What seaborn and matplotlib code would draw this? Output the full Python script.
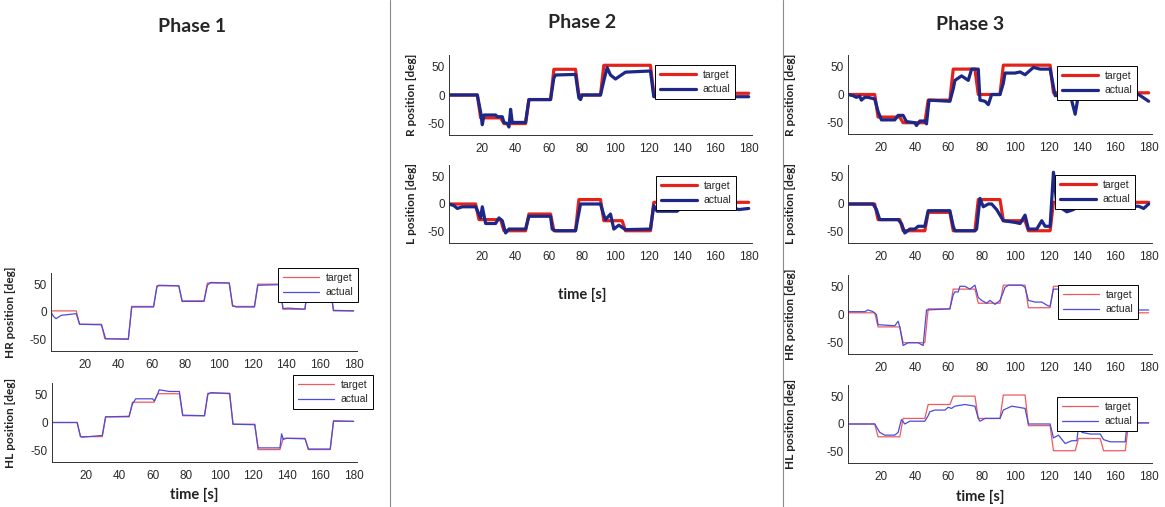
import matplotlib
matplotlib.use("Agg")
import matplotlib.pyplot as plt
import seaborn as sns
from matplotlib.lines import Line2D

sns.set_theme(style="white")
plt.rcParams["font.family"] = ["Liberation Sans", "DejaVu Sans"]
plt.rcParams["axes.unicode_minus"] = False

W, H = 1165, 507

# ---- data: (time [s], position [deg]) breakpoints ----
# Phase 1
P1_HR_TARGET_T = [0, 15, 17, 30, 32, 46, 48, 61, 63, 76, 78, 91, 93, 106, 108, 121, 123, 136, 138, 151, 153, 166, 168, 180]
P1_HR_TARGET_Y = [2, 2, -22, -22, -48, -48, 10, 10, 47, 47, 20, 20, 52, 52, 10, 10, 50, 50, 5, 5, 48, 48, 2, 2]
P1_HR_ACTUAL_T = [0, 1.5, 3, 6, 15, 17, 30, 32.5, 46, 48, 61, 63, 64, 76, 78, 91, 93, 95, 106, 108, 110, 121, 123, 136, 138, 141, 151, 153, 166, 168, 180]
P1_HR_ACTUAL_Y = [0, -8, -12, -6, -3, -22, -23, -48, -49, 9, 9, 45, 48, 47, 19, 19, 48, 53, 52, 12, 9, 9, 48, 49, 6, 7, 5, 48, 48, 3, 2]

P1_HL_TARGET_T = [0, 15, 17, 30, 32, 46, 48, 61, 63, 76, 78, 91, 93, 106, 108, 121, 123, 136, 138, 151, 153, 166, 168, 180]
P1_HL_TARGET_Y = [0, 0, -25, -25, 10, 10, 36, 36, 51, 51, 12, 12, 52, 52, -3, -3, -48, -48, -28, -28, -48, -48, 2, 2]
P1_HL_ACTUAL_T = [0, 15, 17, 18, 30, 32, 46, 48, 50, 60, 61, 63, 64, 70, 76, 78, 91, 93, 95, 106, 108, 121, 123, 136, 137, 138, 140, 151, 153, 166, 168, 180]
P1_HL_ACTUAL_Y = [0, 0, -25, -26, -23, 10, 11, 33, 42, 42, 38, 50, 58, 55, 55, 13, 12, 50, 53, 51, -3, -4, -45, -45, -20, -30, -28, -29, -47, -47, 3, 2]

# Phase 2
P2_R_TARGET_T = [0, 17, 19, 31, 33, 46, 48, 61, 63, 76, 78, 91, 93, 121, 123, 180]
P2_R_TARGET_Y = [0, 0, -40, -40, -50, -50, -8, -8, 45, 45, 0, 0, 52, 52, 3, 3]
P2_R_ACTUAL_T = [0, 17, 19, 20, 21, 28, 29, 32, 33, 35, 36, 37, 38, 46, 48, 61, 63, 64, 76, 78, 79, 80, 91, 93, 95, 97, 100, 103, 106, 121, 123, 180]
P2_R_ACTUAL_Y = [0, 0, -30, -52, -35, -35, -38, -38, -48, -50, -56, -25, -48, -48, -8, -8, 30, 35, 36, -5, -8, 0, 0, 25, 48, 35, 28, 34, 40, 42, -3, -3]

P2_L_TARGET_T = [0, 16, 18, 31, 33, 46, 48, 61, 63, 76, 78, 91, 93, 104, 106, 121, 123, 180]
P2_L_TARGET_Y = [0, 0, -28, -28, -48, -48, -18, -18, -48, -48, 8, 8, -30, -30, -48, -48, 3, 3]
P2_L_ACTUAL_T = [0, 3, 5, 8, 16, 19, 20, 22, 28, 30, 32, 34, 36, 46, 48, 61, 62, 64, 76, 79, 91, 93, 94, 97, 99, 102, 106, 121, 123, 125, 137, 139, 172, 174, 180]
P2_L_ACTUAL_Y = [0, -3, -8, -5, -5, -25, -5, -35, -35, -25, -30, -52, -45, -45, -22, -22, -45, -48, -48, 0, 0, -20, -28, -18, -45, -38, -46, -45, -3, -13, -13, -8, -8, -10, -8]

# Phase 3
P3_R_TARGET_T = [0, 16, 18, 31, 33, 46, 48, 61, 63, 76, 78, 91, 93, 121, 123, 180]
P3_R_TARGET_Y = [0, 0, -40, -40, -50, -50, -10, -10, 45, 45, 0, 0, 52, 52, 3, 3]
P3_R_ACTUAL_T = [0, 3, 5, 7, 8, 10, 12, 16, 18, 20, 28, 30, 33, 35, 40, 41, 43, 46, 47, 48.5, 61, 63, 64, 68, 72, 74, 78, 79, 82, 84, 86, 91, 93, 94, 100, 103, 106, 111, 115, 121, 124, 133, 136, 138, 174, 180]
P3_R_ACTUAL_Y = [0, -2, -5, -3, -10, -5, -5, -8, -30, -45, -45, -37, -37, -48, -50, -55, -47, -47, -52, -10, -12, 10, 25, 33, 25, 45, 45, -10, -12, -18, 0, 0, 20, 38, 38, 40, 35, 48, 45, 45, -2, 0, -35, 0, 0, -12]

P3_L_TARGET_T = [0, 16, 18, 31, 33, 46, 48, 61, 63, 76, 78, 91, 93, 106, 108, 121, 123, 180]
P3_L_TARGET_Y = [0, 0, -28, -28, -48, -48, -15, -15, -48, -48, 8, 8, -30, -30, -48, -48, 3, 3]
P3_L_ACTUAL_T = [0, 15, 17, 19, 30, 32, 34, 37, 40, 42, 46, 48, 61, 63, 64, 76, 77, 79, 81, 84, 86, 89, 93, 100, 103, 106, 108, 113, 116, 118, 121, 123, 125, 128, 131, 135, 137, 174, 177, 180]
P3_L_ACTUAL_Y = [0, 0, -10, -28, -28, -35, -52, -45, -45, -40, -40, -12, -12, -40, -48, -48, -45, 10, -5, 0, 0, -10, -30, -33, -35, -20, -45, -45, -30, -40, -40, 57, 0, -8, -14, -10, -4, -4, -8, 0]

P3_HR_TARGET_T = [0, 16, 18, 31, 33, 46, 48, 61, 63, 76, 78, 91, 93, 106, 108, 121, 123, 166, 168, 180]
P3_HR_TARGET_Y = [3, 3, -22, -22, -50, -50, 10, 10, 45, 45, 20, 20, 52, 52, 12, 12, 50, 50, 3, 3]
P3_HR_ACTUAL_T = [0, 10, 12, 15, 17, 18, 28, 30, 31, 33, 36, 42, 45, 47, 61, 63, 64, 66, 67, 70, 73, 76, 78, 80, 83, 85, 88, 91, 93, 94, 96, 104, 106, 108, 112, 116, 120, 121, 123, 166, 168, 180]
P3_HR_ACTUAL_Y = [5, 5, 8, 5, 0, -18, -20, -12, -22, -55, -50, -50, -55, 8, 10, 35, 40, 40, 50, 50, 45, 52, 30, 25, 20, 25, 18, 25, 40, 48, 52, 52, 48, 25, 22, 22, 15, 15, 45, 45, 8, 8]

P3_HL_TARGET_T = [0, 16, 18, 31, 33, 46, 48, 61, 63, 76, 78, 91, 93, 106, 108, 121, 123, 136, 138, 151, 153, 166, 168, 180]
P3_HL_TARGET_Y = [0, 0, -23, -23, 10, 10, 35, 35, 50, 50, 10, 10, 52, 52, -3, -3, -48, -48, -26, -26, -48, -48, 2, 2]
P3_HL_ACTUAL_T = [0, 16, 19, 22, 28, 30, 32, 34, 37, 46, 48, 49, 52, 58, 60, 62, 64, 70, 76, 78, 79, 82, 91, 93, 98, 106, 108, 121, 123, 126, 130, 134, 137, 138, 140, 145, 151, 153, 157, 166, 167, 168, 180]
P3_HL_ACTUAL_Y = [0, 0, -15, -20, -20, -15, 8, 0, 5, 5, 15, 22, 25, 25, 30, 28, 32, 35, 32, 10, 5, 10, 10, 25, 32, 28, 0, 0, -25, -20, -35, -30, -30, -5, -15, -18, -18, -28, -32, -32, 0, 2, 2]

X_TICKS = [20, 40, 60, 80, 100, 120, 140, 160, 180]
Y_TICKS = [-50, 0, 50]

THICK = dict(target="#e3231b", actual="#1c2787", lw=2.3)
THIN = dict(target="#ef5a5f", actual="#4b4bdc", lw=0.9)

fig = plt.figure(figsize=(W / 100, H / 100), dpi=100)
fig.patch.set_facecolor("white")


def panel(box, tgt, act, style, ylabel, label_x, legend_xy):
    x0, x1, y0, y1 = box
    ax = fig.add_axes([x0 / W, 1 - y1 / H, (x1 - x0) / W, (y1 - y0) / H])
    sns.lineplot(x=tgt[0], y=tgt[1], ax=ax, color=style["target"], lw=style["lw"],
                 sort=False, estimator=None, label="target")
    sns.lineplot(x=act[0], y=act[1], ax=ax, color=style["actual"], lw=style["lw"],
                 sort=False, estimator=None, label="actual")
    ax.set_xlim(0, 182)
    ax.set_ylim(-70, 70)
    ax.set_xticks(X_TICKS)
    ax.set_yticks(Y_TICKS)
    ax.tick_params(direction="in", length=3, width=0.6, labelsize=8.5, colors="#2a2a2a")
    ax.tick_params(axis="x", pad=6)
    ax.tick_params(axis="y", pad=3)
    sns.despine(ax=ax)
    for s in ("left", "bottom"):
        ax.spines[s].set_linewidth(0.7)
        ax.spines[s].set_color("#333333")
    ax.set_xlabel("")
    ax.set_ylabel(ylabel, fontsize=8.5, fontweight="bold", family=["Lato", "DejaVu Sans"],
                  color="#222222")
    ax.yaxis.set_label_coords(label_x, 0.5)
    leg = ax.legend(loc="upper left", bbox_to_anchor=(legend_xy[0] / W, 1 - legend_xy[1] / H),
                    bbox_transform=fig.transFigure, fontsize=7.5, frameon=True, fancybox=False,
                    framealpha=1, edgecolor="black", borderpad=0.45, labelspacing=0.45,
                    handlelength=3.5, handletextpad=0.6, borderaxespad=0)
    leg.get_frame().set_linewidth(0.7)
    return ax


# Phase 1
panel((51, 357, 273, 351), (P1_HR_TARGET_T, P1_HR_TARGET_Y), (P1_HR_ACTUAL_T, P1_HR_ACTUAL_Y),
      THIN, "HR position [deg]", -0.115, (278, 268))
panel((52, 357, 383, 462), (P1_HL_TARGET_T, P1_HL_TARGET_Y), (P1_HL_ACTUAL_T, P1_HL_ACTUAL_Y),
      THIN, "HL position [deg]", -0.118, (293, 375))

# Phase 2
panel((449, 752, 55, 135), (P2_R_TARGET_T, P2_R_TARGET_Y), (P2_R_ACTUAL_T, P2_R_ACTUAL_Y),
      THICK, "R position [deg]", -0.106, (655, 65))
panel((449, 752, 165, 243), (P2_L_TARGET_T, P2_L_TARGET_Y), (P2_L_ACTUAL_T, P2_L_ACTUAL_Y),
      THICK, "L position [deg]", -0.106, (656, 176))

# Phase 3
panel((848, 1152, 55, 134), (P3_R_TARGET_T, P3_R_TARGET_Y), (P3_R_ACTUAL_T, P3_R_ACTUAL_Y),
      THICK, "R position [deg]", -0.17, (1057, 66))
panel((848, 1152, 165, 243), (P3_L_TARGET_T, P3_L_TARGET_Y), (P3_L_ACTUAL_T, P3_L_ACTUAL_Y),
      THICK, "L position [deg]", -0.17, (1055, 175))
panel((848, 1152, 275, 354), (P3_HR_TARGET_T, P3_HR_TARGET_Y), (P3_HR_ACTUAL_T, P3_HR_ACTUAL_Y),
      THIN, "HR position [deg]", -0.17, (1058, 285))
panel((848, 1152, 385, 463), (P3_HL_TARGET_T, P3_HL_TARGET_Y), (P3_HL_ACTUAL_T, P3_HL_ACTUAL_Y),
      THIN, "HL position [deg]", -0.17, (1057, 397))

# column titles and shared x labels
title_font = ["Lato", "DejaVu Sans"]
for x, y, txt in [(192, 27, "Phase 1"), (582, 22, "Phase 2"), (970, 25, "Phase 3")]:
    fig.text(x / W, 1 - y / H, txt, ha="center", va="center", fontsize=14,
             fontweight="bold", family=title_font)
for x, y in [(194, 495), (582, 295), (980, 497)]:
    fig.text(x / W, 1 - y / H, "time [s]", ha="center", va="center", fontsize=10.5,
             fontweight="bold", family=title_font, color="#222222")

# column separators
for x in (390, 783):
    fig.add_artist(Line2D([x / W, x / W], [0, 1], transform=fig.transFigure,
                          color="#8a8a8a", lw=0.8))

fig.savefig("out.png", dpi=100)
